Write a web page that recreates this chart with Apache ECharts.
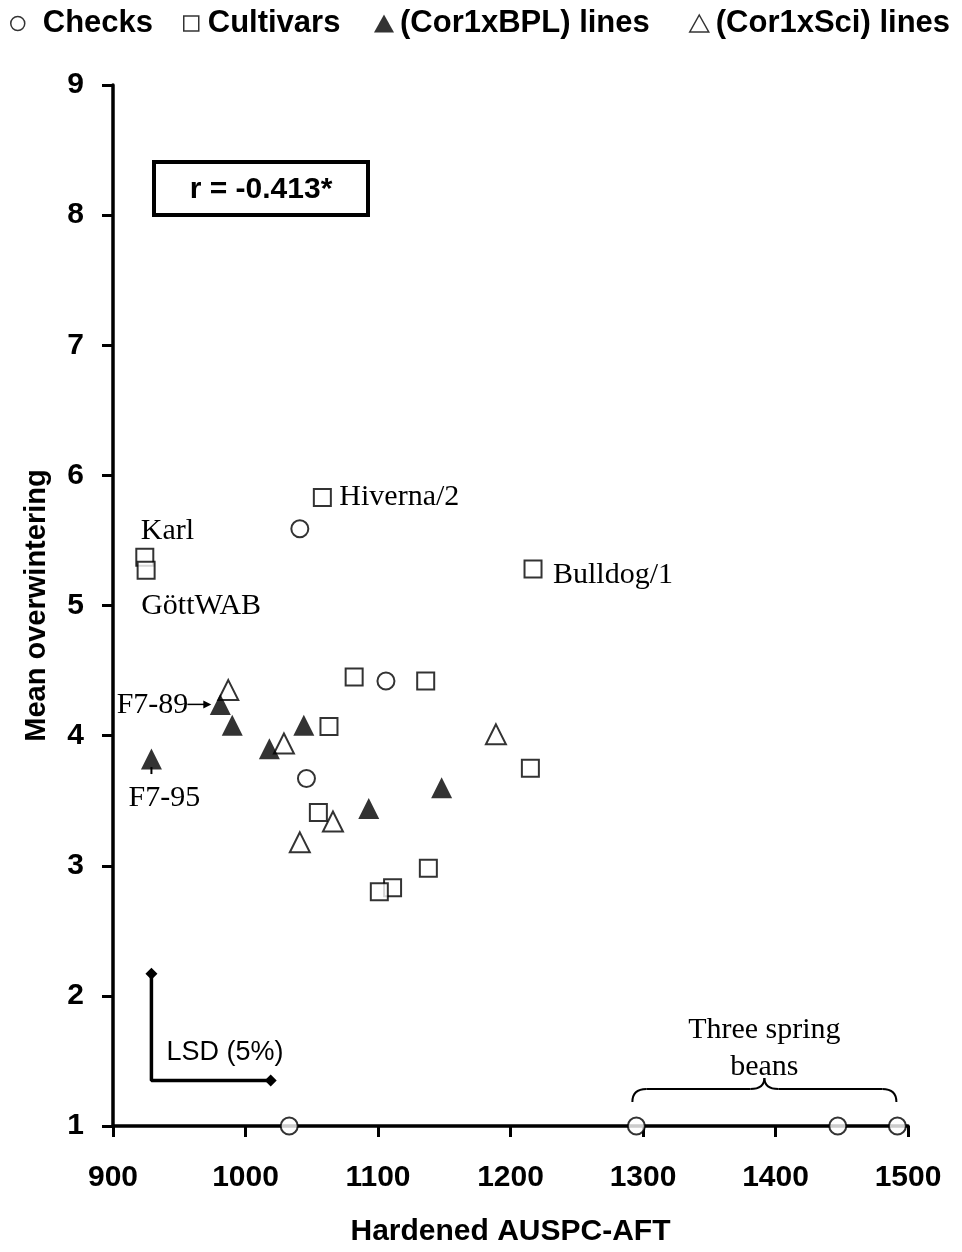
<!DOCTYPE html>
<html><head><meta charset="utf-8">
<script src="https://cdn.jsdelivr.net/npm/echarts@6/dist/echarts.min.js"></script>
<style>html,body{margin:0;padding:0;background:#fff}#c{width:962px;height:1252px}</style>
</head><body><div id="c"></div>
<script>
// ---- data ----
const xTicks = [900, 1000, 1100, 1200, 1300, 1400, 1500];
const yTicks = [1, 2, 3, 4, 5, 6, 7, 8, 9];
const seriesNames = ['Checks', 'Cultivars', '(Cor1xBPL) lines', '(Cor1xSci) lines'];
const checks = [[1041, 5.59], [1106, 4.42], [1046, 3.67], [1033, 1.0], [1295, 1.0], [1447, 1.0], [1492, 1.0]];
const cultivars = [[1058, 5.83], [924, 5.37], [925, 5.27], [1217, 5.28], [1082, 4.45], [1136, 4.42], [1063, 4.07],
                   [1215, 3.75], [1055, 3.41], [1138, 2.98], [1111, 2.83], [1101, 2.80]];
const bplLines = [[981, 4.24], [990, 4.08], [1044, 4.08], [1018, 3.90], [929, 3.82], [1093, 3.44], [1148, 3.60]];
const sciLines = [[987, 4.35], [1029, 3.94], [1189, 4.01], [1066, 3.34], [1041, 3.18]];
const lsdBar = [[929, 2.17], [929, 1.35], [1019, 1.35]];
const rText = 'r = -0.413*';
const lsdText = 'LSD (5%)';
const pointLabels = [
  {name: 'Hiverna/2', at: [1058, 5.83]},
  {name: 'Karl', at: [924, 5.37]},
  {name: 'GöttWAB', at: [925, 5.27]},
  {name: 'Bulldog/1', at: [1217, 5.28]},
  {name: 'F7-89', at: [981, 4.24]},
  {name: 'F7-95', at: [929, 3.82]}
];
const springBeans = {text: ['Three spring', 'beans'], from: [1295, 1.0], to: [1492, 1.0]};

// ---- chart ----
const SANS = '"Liberation Sans", Arial, sans-serif';
const SERIF = '"Liberation Serif", "Times New Roman", serif';
const chart = echarts.init(document.getElementById('c'), null, {renderer: 'canvas'});
const open = {color: '#fff', borderColor: '#000', borderWidth: 2};
const filled = {color: '#000', borderColor: '#000', borderWidth: 0};

const legendIcons = [
  {icon: 'circle', itemStyle: {color: '#fff', borderColor: '#000', borderWidth: 1.5}, left: 10, w: 14, h: 14, pad: 13},
  {icon: 'rect', itemStyle: {color: '#fff', borderColor: '#000', borderWidth: 1.5}, left: 183, w: 15, h: 15, pad: 4},
  {icon: 'triangle', itemStyle: {color: '#000', borderWidth: 0}, left: 374, w: 20, h: 18, pad: 1},
  {icon: 'triangle', itemStyle: {color: '#fff', borderColor: '#000', borderWidth: 1.5}, left: 689, w: 19, h: 17, pad: 2}
];
const legends = seriesNames.map((n, i) => ({
  left: legendIcons[i].left, top: 8, padding: 0, itemWidth: legendIcons[i].w, itemHeight: legendIcons[i].h,
  selectedMode: false,
  textStyle: {fontFamily: SANS, fontWeight: 'bold', fontSize: 31, color: '#000', padding: [0, 0, 0, legendIcons[i].pad]},
  data: [{name: n, icon: legendIcons[i].icon, itemStyle: legendIcons[i].itemStyle}]
}));

const plain = v => String(v);

chart.setOption({
  animation: false,
  backgroundColor: '#fff',
  grid: {left: 113, right: 54, top: 85, bottom: 124, containLabel: false},
  legend: legends,
  xAxis: {
    type: 'value', min: xTicks[0], max: xTicks[xTicks.length - 1], interval: xTicks[1] - xTicks[0],
    name: 'Hardened AUSPC-AFT', nameLocation: 'middle', nameGap: 91,
    nameTextStyle: {fontFamily: SANS, fontWeight: 'bold', fontSize: 30, color: '#000'},
    axisLine: {show: true, onZero: false, lineStyle: {color: '#000', width: 3.5}},
    axisTick: {show: true, length: 11, lineStyle: {color: '#000', width: 3}},
    axisLabel: {margin: 37, formatter: plain, fontFamily: SANS, fontWeight: 'bold', fontSize: 30, color: '#000'},
    splitLine: {show: false}
  },
  yAxis: {
    type: 'value', min: yTicks[0], max: yTicks[yTicks.length - 1], interval: yTicks[1] - yTicks[0],
    name: 'Mean overwintering', nameLocation: 'middle', nameGap: 62,
    nameTextStyle: {fontFamily: SANS, fontWeight: 'bold', fontSize: 29, color: '#000'},
    axisLine: {show: true, onZero: false, lineStyle: {color: '#000', width: 3.5}},
    axisTick: {show: true, length: 11, lineStyle: {color: '#000', width: 3}},
    axisLabel: {margin: 29, formatter: plain, fontFamily: SANS, fontWeight: 'bold', fontSize: 30, color: '#000'},
    splitLine: {show: false}
  },
  series: [
    {name: seriesNames[0], type: 'scatter', symbol: 'circle', symbolSize: 17, itemStyle: open, data: checks, z: 3},
    {name: seriesNames[1], type: 'scatter', symbol: 'rect', symbolSize: 17, itemStyle: open, data: cultivars, z: 3},
    {name: seriesNames[2], type: 'scatter', symbol: 'triangle', symbolSize: 21, itemStyle: filled, data: bplLines, z: 4},
    {name: seriesNames[3], type: 'scatter', symbol: 'triangle', symbolSize: 20, itemStyle: open, data: sciLines, z: 3},
    {name: 'LSD', type: 'line', data: lsdBar.map((p, i) => ({value: p, symbol: i === 1 ? 'none' : 'diamond'})),
     symbolSize: 12, itemStyle: {color: '#000'}, lineStyle: {color: '#000', width: 3.5}, z: 2}
  ]
});

function px(p) { return chart.convertToPixel({gridIndex: 0}, p); }
const g = [];
const serifText = (t, x, y, align) => ({type: 'text', x: x, y: y, z: 10,
  style: {text: t, fontFamily: SERIF, fontSize: 30, fill: '#000', align: align || 'left', verticalAlign: 'middle'}});

// point labels
const L = {};
pointLabels.forEach(l => L[l.name] = px(l.at));
g.push(serifText('Hiverna/2', L['Hiverna/2'][0] + 17, L['Hiverna/2'][1]));
g.push(serifText('Karl', L['Karl'][0] - 4, L['Karl'][1] - 26));
g.push(serifText('GöttWAB', L['GöttWAB'][0] - 5, L['GöttWAB'][1] + 36));
g.push(serifText('Bulldog/1', L['Bulldog/1'][0] + 20, L['Bulldog/1'][1] + 6));
// F7-89 with arrow
const a = L['F7-89'];
g.push(serifText('F7-89', a[0] - 32, a[1] + 1, 'right'));
g.push({type: 'line', z: 10, shape: {x1: a[0] - 33, y1: a[1], x2: a[0] - 12, y2: a[1]}, style: {stroke: '#000', lineWidth: 1.5}});
g.push({type: 'polygon', z: 10, shape: {points: [[a[0] - 9, a[1]], [a[0] - 17, a[1] - 4], [a[0] - 17, a[1] + 4]]}, style: {fill: '#000'}});
// F7-95 with small stem
const b = L['F7-95'];
g.push({type: 'line', z: 10, shape: {x1: b[0], y1: b[1] + 8, x2: b[0], y2: b[1] + 15}, style: {stroke: '#000', lineWidth: 2}});
g.push(serifText('F7-95', b[0] + 13, b[1] + 39, 'center'));

// correlation box
g.push({type: 'rect', z: 10, shape: {x: 154, y: 162, width: 214, height: 53}, style: {fill: '#fff', stroke: '#000', lineWidth: 4}});
g.push({type: 'text', z: 11, x: 261, y: 190, style: {text: rText, fontFamily: SANS, fontWeight: 'bold', fontSize: 30, fill: '#000', align: 'center', verticalAlign: 'middle'}});

// LSD label
const lsdC = px(lsdBar[1]);
g.push({type: 'text', z: 10, x: lsdC[0] + 15, y: lsdC[1] - 28, style: {text: lsdText, fontFamily: SANS, fontSize: 27, fill: '#000', align: 'left', verticalAlign: 'middle'}});

// brace for spring beans
const pl = px(springBeans.from), pr = px(springBeans.to);
const xl = pl[0] - 4, xr = pr[0] - 1, yb = pl[1] - 24, ym = pl[1] - 37, yt = pl[1] - 48, xc = (xl + xr) / 2, r = 14;
const bs = {fill: 'none', stroke: '#000', lineWidth: 2};
g.push({type: 'bezierCurve', z: 10, shape: {x1: xl, y1: yb, cpx1: xl, cpy1: ym, x2: xl + r, y2: ym}, style: bs});
g.push({type: 'line', z: 10, shape: {x1: xl + r, y1: ym, x2: xc - r, y2: ym}, style: bs});
g.push({type: 'bezierCurve', z: 10, shape: {x1: xc - r, y1: ym, cpx1: xc, cpy1: ym, x2: xc, y2: yt}, style: bs});
g.push({type: 'bezierCurve', z: 10, shape: {x1: xc, y1: yt, cpx1: xc, cpy1: ym, x2: xc + r, y2: ym}, style: bs});
g.push({type: 'line', z: 10, shape: {x1: xc + r, y1: ym, x2: xr - r, y2: ym}, style: bs});
g.push({type: 'bezierCurve', z: 10, shape: {x1: xr - r, y1: ym, cpx1: xr, cpy1: ym, x2: xr, y2: yb}, style: bs});
g.push(serifText(springBeans.text[0], xc, pl[1] - 96, 'center'));
g.push(serifText(springBeans.text[1], xc, pl[1] - 59, 'center'));

chart.setOption({graphic: g});
</script></body></html>
